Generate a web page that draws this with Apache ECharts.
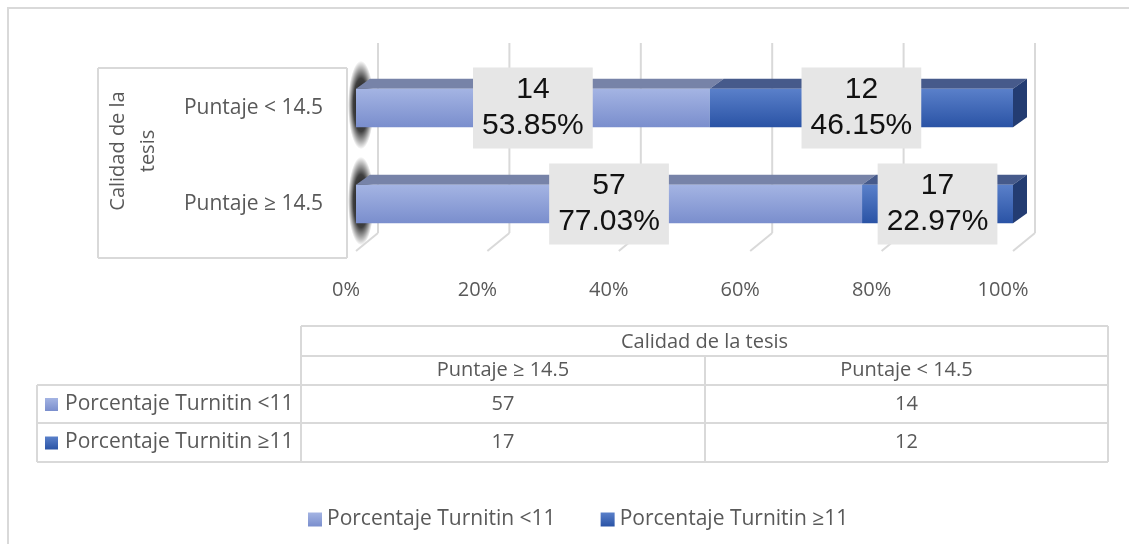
<!DOCTYPE html>
<html>
<head>
<meta charset="utf-8">
<script src="https://cdn.jsdelivr.net/npm/echarts@6/dist/echarts.min.js"></script>
<style>
html, body { margin: 0; padding: 0; background: #fff; }
#chart { width: 1129px; height: 544px; }
</style>
</head>
<body>
<div id="chart"></div>
<script>
// datos
const categories = ['Puntaje ≥ 14.5', 'Puntaje < 14.5'];
const groupName = 'Calidad de la tesis';
const seriesNames = ['Porcentaje Turnitin <11', 'Porcentaje Turnitin ≥11'];
const turnitinLow = [57, 14];
const turnitinHigh = [17, 12];
const xTicks = [0, 20, 40, 60, 80, 100];

const FONT = '"Open Sans", sans-serif';
const GRAY = '#595959';
const LINE = '#d9d9d9';
const DX = 14, DY = 10; // profundidad de las barras 3d

const chart = echarts.init(document.getElementById('chart'));

const totals = categories.map((c, i) => turnitinLow[i] + turnitinHigh[i]);
const lowPct = turnitinLow.map((v, i) => v / totals[i] * 100);
const highPct = turnitinHigh.map((v, i) => v / totals[i] * 100);
const lowData = categories.map((c, i) => [0, lowPct[i], i, turnitinLow[i], lowPct[i]]);
const highData = categories.map((c, i) => [lowPct[i], lowPct[i] + highPct[i], i, turnitinHigh[i], highPct[i]]);

const grad = (a, b) => new echarts.graphic.LinearGradient(0, 0, 0, 1, [
  { offset: 0, color: a }, { offset: 1, color: b }
]);

const lowColors = { front: grad('#a4b4e3', '#7a8ecd'), top: '#7783a8', side: '#5a6a9a' };
const highColors = { front: grad('#5a80ca', '#2a53a5'), top: '#465a8b', side: '#233c72' };

function barRenderer(colors, isLast) {
  return function (params, api) {
    const cat = api.value(2);
    const p0 = api.coord([api.value(0), cat]);
    const p1 = api.coord([api.value(1), cat]);
    const h = api.size([0, 1])[1] * 0.4;
    const top = p0[1] - h / 2, bot = p0[1] + h / 2;
    const x0 = p0[0], x1 = p1[0];
    const children = [];
    if (api.value(0) === 0) {
      // sombra difusa al lado izquierdo (circulo estirado en vertical)
      children.push({
        type: 'circle',
        x: x0 + 5,
        y: p0[1] - 3,
        scaleY: (h / 2 + 25) / 13,
        shape: { cx: 0, cy: 0, r: 13 },
        style: {
          fill: new echarts.graphic.RadialGradient(0.5, 0.5, 0.5, [
            { offset: 0, color: 'rgba(0,0,0,0.95)' },
            { offset: 0.6, color: 'rgba(0,0,0,0.75)' },
            { offset: 1, color: 'rgba(0,0,0,0)' }
          ])
        }
      });
    }
    children.push({
      type: 'polygon',
      shape: { points: [[x0, top], [x0 + DX, top - DY], [x1 + DX, top - DY], [x1, top]] },
      style: { fill: colors.top }
    });
    if (isLast) {
      children.push({
        type: 'polygon',
        shape: { points: [[x1, top], [x1 + DX, top - DY], [x1 + DX, bot - DY], [x1, bot]] },
        style: { fill: colors.side }
      });
    }
    children.push({
      type: 'rect',
      shape: { x: x0, y: top, width: x1 - x0, height: h },
      style: { fill: colors.front }
    });
    children.push({
      type: 'text',
      z2: 20,
      style: {
        text: api.value(3) + '\n' + api.value(4).toFixed(2) + '%',
        x: (x0 + x1) / 2,
        y: p0[1],
        align: 'center',
        verticalAlign: 'middle',
        fontSize: 30,
        fontFamily: '"Liberation Sans", Arial, sans-serif',
        lineHeight: 36,
        fill: '#111',
        backgroundColor: '#e6e6e6',
        padding: [5, 9, 4, 9]
      }
    });
    return { type: 'group', children: children };
  };
}

function wallRenderer(params, api) {
  const cs = params.coordSys;
  const x = api.coord([api.value(0), 0])[0];
  const backTop = cs.y - 17, backBot = cs.y + cs.height - 19, front = cs.y + cs.height - 1;
  return {
    type: 'group',
    children: [
      { type: 'line', shape: { x1: x + 22, y1: backTop, x2: x + 22, y2: backBot }, style: { stroke: LINE, lineWidth: 2 } },
      { type: 'line', shape: { x1: x + 22, y1: backBot, x2: x, y2: front }, style: { stroke: LINE, lineWidth: 2 } }
    ]
  };
}

// tabla de datos debajo del grafico
const tbl = { left: 37, c1: 301, c2: 705, right: 1108, r0: 326, r1: 356, r2: 385, r3: 423, r4: 462 };
const tableText = (text, x, y, align) => ({
  type: 'text',
  style: { text: text, x: x, y: y, align: align || 'center', verticalAlign: 'middle', fontSize: 20, fontFamily: FONT, fill: GRAY }
});
const hline = (x1, x2, y) => ({ type: 'line', shape: { x1: x1, y1: y, x2: x2, y2: y }, style: { stroke: LINE, lineWidth: 2 } });
const vline = (x, y1, y2) => ({ type: 'line', shape: { x1: x, y1: y1, x2: x, y2: y2 }, style: { stroke: LINE, lineWidth: 2 } });

const tableRows = [turnitinLow, turnitinHigh];
const tableGraphics = [
  hline(tbl.c1, tbl.right, tbl.r0),
  hline(tbl.c1, tbl.right, tbl.r1),
  hline(tbl.left, tbl.right, tbl.r2),
  hline(tbl.left, tbl.right, tbl.r3),
  hline(tbl.left, tbl.right, tbl.r4),
  vline(tbl.left, tbl.r2, tbl.r4),
  vline(tbl.c1, tbl.r0, tbl.r4),
  vline(tbl.c2, tbl.r1, tbl.r4),
  vline(tbl.right, tbl.r0, tbl.r4),
  tableText(groupName, (tbl.c1 + tbl.right) / 2, (tbl.r0 + tbl.r1) / 2 + 1),
  tableText(categories[0], (tbl.c1 + tbl.c2) / 2, (tbl.r1 + tbl.r2) / 2),
  tableText(categories[1], (tbl.c2 + tbl.right) / 2, (tbl.r1 + tbl.r2) / 2)
];
const rowTops = [tbl.r2, tbl.r3];
const rowBots = [tbl.r3, tbl.r4];
const iconColors = [lowColors.front, highColors.front];
tableRows.forEach((vals, r) => {
  const cy = (rowTops[r] + rowBots[r]) / 2;
  tableGraphics.push({ type: 'rect', shape: { x: 45, y: cy - 6, width: 13, height: 13 }, style: { fill: iconColors[r] } });
  const label = tableText(seriesNames[r], 65, cy, 'left');
  label.style.fontSize = 21;
  tableGraphics.push(label);
  tableGraphics.push(tableText(String(vals[0]), (tbl.c1 + tbl.c2) / 2, cy));
  tableGraphics.push(tableText(String(vals[1]), (tbl.c2 + tbl.right) / 2, cy));
});

const option = {
  backgroundColor: '#fff',
  animation: false,
  grid: { left: 356, right: 116, top: 60, bottom: 292 },
  xAxis: {
    type: 'value',
    min: 0,
    max: 100,
    interval: 20,
    axisLine: { show: false },
    axisTick: { show: false },
    splitLine: { show: false },
    axisLabel: {
      formatter: '{value}%',
      fontSize: 20,
      fontFamily: FONT,
      color: GRAY,
      margin: 28,
      padding: [0, 20, 0, 0]
    }
  },
  yAxis: {
    type: 'category',
    data: categories,
    axisLine: { show: false },
    axisTick: { show: false },
    splitLine: { show: false },
    axisLabel: {
      fontSize: 21,
      fontFamily: FONT,
      color: GRAY,
      margin: 33,
      padding: [20, 0, 0, 0]
    },
    name: 'Calidad de la\ntesis',
    nameLocation: 'middle',
    nameRotate: 90,
    nameGap: 193,
    nameTextStyle: { fontSize: 20, fontFamily: FONT, color: GRAY, lineHeight: 30, padding: [0, 0, 0, 10] }
  },
  legend: {
    data: seriesNames,
    left: 308,
    top: 509,
    padding: 0,
    icon: 'rect',
    itemWidth: 14,
    itemHeight: 14,
    itemGap: 45,
    textStyle: { fontSize: 21, fontFamily: FONT, color: GRAY }
  },
  graphic: [
    { type: 'rect', shape: { x: 8, y: 8, width: 1200, height: 600 }, style: { fill: 'none', stroke: LINE, lineWidth: 2 }, z: -1 },
    // caja de etiquetas del eje y y pared izquierda
    hline(98, 347, 68),
    hline(98, 347, 258),
    vline(98, 68, 258),
    vline(347, 68, 258)
  ].concat(tableGraphics),
  series: [
    {
      name: 'wall',
      type: 'custom',
      renderItem: wallRenderer,
      data: xTicks.map(v => [v]),
      encode: { x: 0 },
      silent: true,
      z: 1
    },
    {
      name: seriesNames[0],
      type: 'custom',
      renderItem: barRenderer(lowColors, false),
      itemStyle: { color: lowColors.front },
      data: lowData,
      encode: { x: [0, 1], y: 2 },
      z: 2
    },
    {
      name: seriesNames[1],
      type: 'custom',
      renderItem: barRenderer(highColors, true),
      itemStyle: { color: highColors.front },
      data: highData,
      encode: { x: [0, 1], y: 2 },
      z: 2
    }
  ]
};

chart.setOption(option);
</script>
</body>
</html>
